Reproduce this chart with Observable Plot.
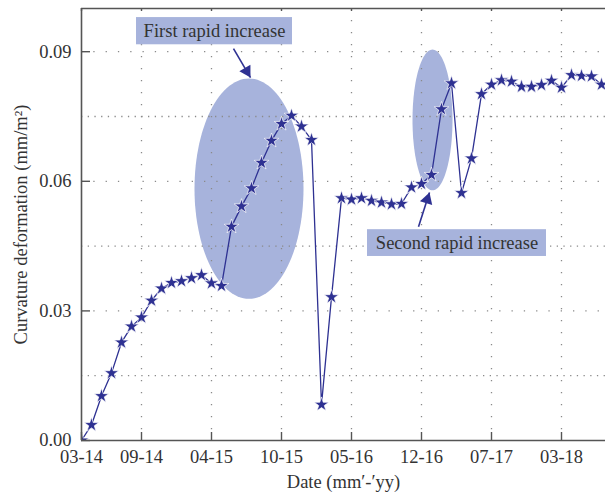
<!DOCTYPE html>
<html>
<head>
<meta charset="utf-8">
<script src="https://cdn.jsdelivr.net/npm/d3@7"></script>
<script src="https://cdn.jsdelivr.net/npm/@observablehq/plot@0.6"></script>
<style>
  html, body { margin: 0; padding: 0; background: #fff; }
  #chart svg { display: block; }
</style>
</head>
<body>
<div id="chart"></div>
<script>
// Curvature deformation readings, one per survey (evenly spaced along x)
const curvature = [
  0.0000, 0.0036, 0.0103, 0.0156, 0.0227, 0.0264, 0.0285, 0.0324, 0.0352, 0.0365,
  0.0369, 0.0376, 0.0383, 0.0364, 0.0358, 0.0495, 0.0542, 0.0584, 0.0643, 0.0694,
  0.0733, 0.0752, 0.0727, 0.0696, 0.0083, 0.0332, 0.0561, 0.0558, 0.0561, 0.0555,
  0.0551, 0.0547, 0.0548, 0.0586, 0.0594, 0.0615, 0.0767, 0.0827, 0.0573, 0.0653,
  0.0802, 0.0824, 0.0834, 0.0831, 0.0819, 0.0819, 0.0823, 0.0833, 0.0817, 0.0846,
  0.0844, 0.0843, 0.0824
];

// Date ticks (survey index and label)
const dateTickIndex = [0, 6, 13, 20, 27, 34, 41, 48];
const dateTickLabels = ["03-14", "09-14", "04-15", "10-15", "05-16", "12-16", "07-17", "03-18"];

// Curvature ticks
const valueTicks = [0, 0.03, 0.06, 0.09];
const valueTickLabels = ["0.00", "0.03", "0.06", "0.09"];
const minorValueGrid = [0.015, 0.045, 0.075];

// Highlighted phases
const phaseNames = ["First rapid increase", "Second rapid increase"];
const phaseCenterX = [16.75, 35.1];
const phaseCenterY = [0.0583, 0.0742];
const phaseRadiusX = [5.45, 2.0];
const phaseRadiusY = [0.0255, 0.0163];

// Label boxes for each phase
const boxX1 = [5.5, 28.6];
const boxX2 = [21.1, 46.5];
const boxY1 = [0.0916, 0.0426];
const boxY2 = [0.0979, 0.0488];

// Arrows from each label to its highlighted region
const arrowX1 = [15.2, 33.7];
const arrowY1 = [0.0907, 0.0495];
const arrowX2 = [16.9, 34.8];
const arrowY2 = [0.0840, 0.0574];

// ---- layout ----
const W = 605, H = 493;
const mL = 81, mR = 0, mT = 8, mB = 53;
const xDomain = [0, 52.4];
const yDomain = [0, 0.1];
const plotW = W - mL - mR, plotH = H - mT - mB;
const kx = plotW / (xDomain[1] - xDomain[0]);
const ky = plotH / (yDomain[1] - yDomain[0]);

const navy = "#2e3192";
const phaseFill = "#a7b3dc";
const ink = "#333";
const gridColor = "#8a8a8a";
const axisColor = "#555";
const fs = 18.5;

const series = curvature.map((v, i) => ({i, v}));
const dateTicks = dateTickIndex.map((i, k) => ({i, label: dateTickLabels[k]}));
const yTicks = valueTicks.map((v, k) => ({v, label: valueTickLabels[k]}));

// Ellipse outlines for the highlighted phases
const ellipsePts = phaseNames.flatMap((name, k) =>
  d3.range(0, 360, 3).map(a => {
    const t = a * Math.PI / 180;
    return {
      name,
      x: phaseCenterX[k] + phaseRadiusX[k] * Math.cos(t),
      y: phaseCenterY[k] + phaseRadiusY[k] * Math.sin(t)
    };
  })
);

const boxes = phaseNames.map((name, k) => ({
  name, x1: boxX1[k], x2: boxX2[k], y1: boxY1[k], y2: boxY2[k],
  cx: (boxX1[k] + boxX2[k]) / 2, cy: (boxY1[k] + boxY2[k]) / 2
}));

// Arrow heads: triangle centred behind the tip, rotated along the shaft
const headHalf = 3.7; // px, d3 triangle half-height unit
const arrows = phaseNames.map((name, k) => {
  const dxp = (arrowX2[k] - arrowX1[k]) * kx;
  const dyp = (arrowY2[k] - arrowY1[k]) * ky;
  const len = Math.hypot(dxp, dyp);
  const ux = dxp / len, uy = dyp / len;
  const back = 2 * headHalf;
  return {
    name,
    x1: arrowX1[k], y1: arrowY1[k], x2: arrowX2[k], y2: arrowY2[k],
    hx: arrowX2[k] - ux * back / kx,
    hy: arrowY2[k] - uy * back / ky,
    rot: Math.atan2(dxp, dyp) * 180 / Math.PI
  };
});
const headR = Math.sqrt(headHalf * headHalf * Math.sqrt(3) * 3 / Math.PI);

const chart = Plot.plot({
  width: W,
  height: H,
  marginLeft: mL,
  marginRight: mR,
  marginTop: mT,
  marginBottom: mB,
  x: {domain: xDomain, axis: null},
  y: {domain: yDomain, axis: null},
  style: {
    fontFamily: "'Liberation Serif', 'DejaVu Serif', serif",
    fontSize: fs + "px",
    color: ink,
    background: "#fff",
    overflow: "visible"
  },
  marks: [
    // highlighted phases
    Plot.line(ellipsePts, {x: "x", y: "y", z: "name", curve: "linear-closed", fill: phaseFill, stroke: null}),

    // dotted grid
    Plot.ruleY(minorValueGrid, {stroke: gridColor, strokeWidth: 1.3, strokeDasharray: "1.3,5.4"}),
    Plot.ruleY(valueTicks.slice(1), {stroke: gridColor, strokeWidth: 1.3, strokeDasharray: "1.3,11"}),
    Plot.ruleX(dateTickIndex.slice(1), {stroke: gridColor, strokeWidth: 1.3, strokeDasharray: "1.3,10.7"}),

    // label boxes
    Plot.rect(boxes, {x1: "x1", x2: "x2", y1: "y1", y2: "y2", fill: phaseFill}),
    Plot.text(boxes, {x: "cx", y: "cy", text: "name", fill: ink, fontSize: fs}),

    // data
    Plot.line(series, {x: "i", y: "v", stroke: navy, strokeWidth: 1.3}),
    Plot.dot(series, {x: "i", y: "v", symbol: "star", r: 4.6, fill: navy, stroke: "#fff", strokeWidth: 0.7, clip: true}),

    // arrows
    Plot.link(arrows, {x1: "x1", y1: "y1", x2: "x2", y2: "y2", stroke: navy, strokeWidth: 1.6}),
    Plot.dot(arrows, {x: "hx", y: "hy", symbol: "triangle", r: headR, rotate: "rot", fill: navy, stroke: null}),

    // frame (left, bottom, top)
    Plot.ruleY([yDomain[0], yDomain[1]], {stroke: axisColor, strokeWidth: 1.6}),
    Plot.ruleX([xDomain[0]], {stroke: axisColor, strokeWidth: 1.6}),

    // inward tick marks
    Plot.ruleX(dateTickIndex, {stroke: axisColor, strokeWidth: 1.4, insetTop: plotH - 8}),
    Plot.ruleX(dateTickIndex, {stroke: axisColor, strokeWidth: 1.4, insetBottom: plotH - 3}),
    Plot.ruleY(valueTicks, {stroke: axisColor, strokeWidth: 1.4, insetRight: plotW - 9}),

    // tick labels
    Plot.text(dateTicks, {x: "i", text: "label", frameAnchor: "bottom", lineAnchor: "top", dy: 9, fill: ink, fontSize: fs}),
    Plot.text(yTicks, {y: "v", text: "label", frameAnchor: "left", textAnchor: "end", dx: -10, fill: ink, fontSize: fs}),

    // axis titles
    Plot.text(["Date (mm′-′yy)"], {frameAnchor: "bottom", lineAnchor: "middle", dy: 42, fill: ink, fontSize: fs}),
    Plot.text(["Curvature deformation (mm/m²)"], {frameAnchor: "left", textAnchor: "middle", rotate: -90, dx: -60, lineAnchor: "middle", fill: ink, fontSize: fs})
  ]
});

document.getElementById("chart").appendChild(chart);
</script>
</body>
</html>
